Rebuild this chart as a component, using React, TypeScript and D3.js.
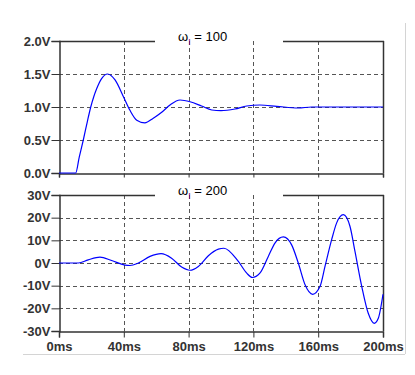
import React from "react";
import * as d3 from "d3";

// time axis (ms)
const xTicks = [0, 40, 80, 120, 160, 200];

// top plot: omega_I = 100 (V)
const topTitle = "100";
const topTicks = [0, 0.5, 1.0, 1.5, 2.0];
const topTime = [0, 10.3, 12.5, 15, 17.5, 19.6, 21.5, 23.3, 26.3, 30, 34.6, 39.7, 43.8, 48, 53, 58.2, 63.4, 68.5, 74.7, 80.9, 88, 94.3, 100, 108.6, 115.9, 124, 134.4, 147.7, 156, 200];
const topVolts = [0, 0, 0.24, 0.5, 0.78, 1.0, 1.16, 1.28, 1.43, 1.5, 1.41, 1.16, 0.95, 0.8, 0.76, 0.83, 0.92, 1.03, 1.106, 1.08, 1.015, 0.955, 0.945, 0.97, 1.015, 1.03, 1.01, 0.985, 1.0, 1.0];

// bottom plot: omega_I = 200 (V)
const botTitle = "200";
const botTicks = [-30, -20, -10, 0, 10, 20, 30];
const botTime = [0, 12, 18, 25.3, 32.5, 40.7, 43.8, 49, 56.2, 63, 69.5, 75.7, 80.9, 86, 92.2, 98.4, 101.8, 110.7, 115.9, 119.3, 124, 129.2, 133.3, 138.5, 143.6, 147.7, 151.9, 156.6, 161.1, 164.2, 168.3, 171.4, 175.5, 179.6, 182.7, 186.9, 190.9, 194.6, 197.1, 200];
const botVolts = [0, 0, 1.4, 2.6, 1.1, -0.9, -1.1, 0, 2.9, 4.1, 2.1, -1.8, -3.2, -1.5, 3.2, 6.1, 6.5, 0.7, -4.5, -6.4, -4.5, 2.9, 8.8, 11.5, 8.0, 0, -9.6, -13.8, -10.4, -1.5, 10.3, 17.7, 21.3, 16.2, 5.1, -10.4, -22.2, -26.6, -24.4, -13.8];

const W = 415;
const H = 375;
const left = 59;
const right = 383;

const App = () => {
    const svgRef = React.useRef(null);

    React.useEffect(() => {
        document.body.style.margin = "0";
        const svg = d3.select(svgRef.current);
        svg.selectAll("*").remove();

        // panel frame (light gray)
        svg.append("line").attr("x1", 23).attr("x2", 405).attr("y1", 354.5).attr("y2", 354.5)
            .attr("stroke", "#d4d4d4");
        svg.append("line").attr("x1", 405.5).attr("x2", 405.5).attr("y1", 23).attr("y2", 354)
            .attr("stroke", "#d4d4d4");

        const x = d3.scaleLinear().domain([0, 200]).range([left, right]);

        const drawPlot = (opts) => {
            const { top, bottom, domain, ticks, fmt, time, volts, title, showX } = opts;
            const y = d3.scaleLinear().domain(domain).range([bottom, top]);
            const g = svg.append("g");

            // grid
            g.selectAll(".vg").data(xTicks.slice(1, -1)).enter().append("line")
                .attr("x1", (d) => Math.round(x(d)) + 0.5).attr("x2", (d) => Math.round(x(d)) + 0.5)
                .attr("y1", top).attr("y2", bottom)
                .attr("stroke", "#555").attr("stroke-dasharray", "4,3");
            g.selectAll(".hg").data(ticks.slice(1, -1)).enter().append("line")
                .attr("x1", left).attr("x2", right)
                .attr("y1", (d) => Math.round(y(d)) + 0.5).attr("y2", (d) => Math.round(y(d)) + 0.5)
                .attr("stroke", "#555").attr("stroke-dasharray", "4,3");

            // y axis
            const yAxis = d3.axisLeft(y).tickValues(ticks).tickSize(8).tickPadding(1).tickFormat(fmt);
            const ya = g.append("g").attr("transform", `translate(${left + 0.5},0)`).call(yAxis);
            ya.selectAll("line").attr("stroke", "#333");
            ya.select(".domain").attr("stroke", "#333").attr("stroke-width", 1.5);
            ya.selectAll("text")
                .attr("font-family", "Liberation Sans, Arial, sans-serif")
                .attr("font-weight", "bold").attr("font-size", 13).attr("fill", "#333");

            // x axis
            const xAxis = d3.axisBottom(x).tickValues(xTicks).tickSize(showX ? 6 : 4).tickPadding(4)
                .tickFormat((d) => (showX ? `${d}ms` : ""));
            const xa = g.append("g").attr("transform", `translate(0,${bottom + 0.5})`).call(xAxis);
            xa.selectAll("line").attr("stroke", "#333");
            xa.select(".domain").attr("stroke", "#333").attr("stroke-width", 1.5);
            xa.selectAll("text")
                .attr("font-family", "Liberation Sans, Arial, sans-serif")
                .attr("font-weight", "bold").attr("font-size", 13).attr("fill", "#333");

            // right border and top border with a gap for the title
            g.append("line").attr("x1", right + 0.5).attr("x2", right + 0.5).attr("y1", top).attr("y2", bottom)
                .attr("stroke", "#333").attr("stroke-width", 1.5);
            g.append("line").attr("x1", left).attr("x2", 155).attr("y1", top + 0.5).attr("y2", top + 0.5)
                .attr("stroke", "#333").attr("stroke-width", 1.5);
            g.append("line").attr("x1", 283).attr("x2", right + 1).attr("y1", top + 0.5).attr("y2", top + 0.5)
                .attr("stroke", "#333").attr("stroke-width", 1.5);

            // curve
            const pts = time.map((t, i) => [t, volts[i]]);
            const line = d3.line()
                .x((d) => x(d[0]))
                .y((d) => y(d[1]))
                .curve(d3.curveMonotoneX);
            g.append("path")
                .attr("fill", "none")
                .attr("stroke", "#0000ff")
                .attr("stroke-width", 1.2)
                .attr("d", line(pts));

            // title
            const t = g.append("text")
                .attr("x", 178).attr("y", top)
                .attr("font-family", "Liberation Sans, Arial, sans-serif")
                .attr("font-size", 13).attr("fill", "#000");
            t.append("tspan").text("\u03C9");
            t.append("tspan").attr("fill", "#800080").attr("font-size", 9).attr("dy", 4).text("I");
            t.append("tspan").attr("dy", -4).text(` = ${title}`);
        };

        drawPlot({
            top: 41, bottom: 173, domain: [0, 2], ticks: topTicks,
            fmt: (d) => `${d.toFixed(1)}V`, time: topTime, volts: topVolts, title: topTitle, showX: false,
        });
        drawPlot({
            top: 195, bottom: 331, domain: [-30, 30], ticks: botTicks,
            fmt: (d) => `${d}V`, time: botTime, volts: botVolts, title: botTitle, showX: true,
        });
    }, []);

    return <svg ref={svgRef} width={W} height={H} style={{ display: "block", background: "#fff" }} />;
};

export default App;
